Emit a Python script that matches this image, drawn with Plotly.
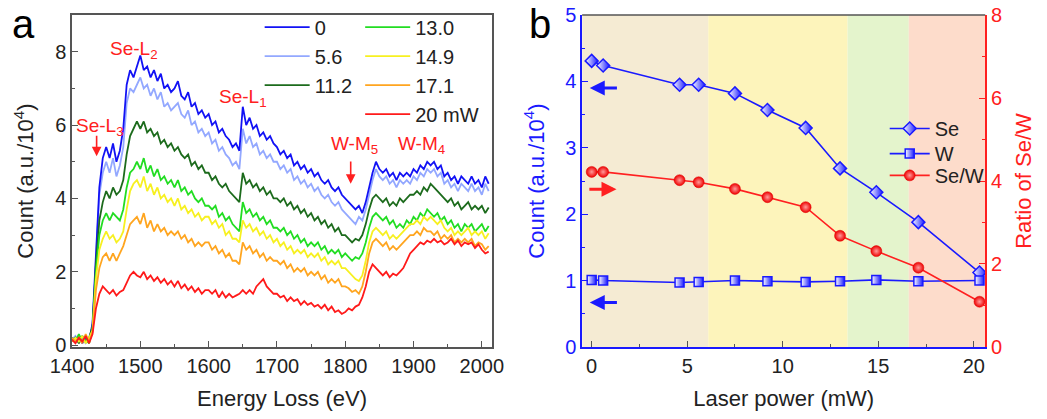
import plotly.graph_objects as go

# ---------------- Panel a data ----------------
energy = list(range(1400, 2015, 5))  # 1400..2010

s_0 = [0.2, 0.1, 0.25, 0.05, 0.2, 0.1, 0.6, 2.6, 4.3, 5.1,
       5.4, 5.1, 5.5, 5.0, 5.3, 5.9, 7.1, 7.5, 7.3, 7.6,
       7.9, 7.5, 7.6, 7.3, 7.5, 7.2, 7.4, 7.0, 7.1, 6.9,
       7.0, 7.2, 6.8, 6.7, 6.9, 6.5, 6.6, 6.3, 6.4, 6.2,
       6.3, 6.0, 6.1, 5.8, 5.9, 5.7, 5.6, 5.4, 5.5, 5.3,
       6.5, 6.0, 6.2, 5.9, 6.0, 5.7, 5.8, 5.6, 5.7, 5.5,
       5.4, 5.2, 5.3, 5.1, 5.2, 4.9, 5.0, 4.8, 4.9, 4.7,
       4.8, 4.6, 4.7, 4.5, 4.4, 4.5, 4.3, 4.2, 4.3, 4.1,
       4.0, 3.9, 3.8, 3.7, 3.8, 3.6, 3.9, 4.3, 4.7, 5.0,
       4.8, 4.7, 4.8, 4.6, 4.7, 4.5, 4.7, 4.6, 4.7, 4.6,
       4.8, 4.7, 4.9, 4.8, 5.0, 4.9, 5.0, 4.8, 4.9, 4.6,
       4.7, 4.5, 4.6, 4.4, 4.6, 4.5, 4.4, 4.6, 4.4, 4.5,
       4.3, 4.6, 4.4]
s_5_6 = [0.15, 0.25, 0.1, 0.2, 0.05, 0.15, 0.5, 2.5, 4.1, 4.7,
         5.0, 4.7, 5.1, 4.6, 4.9, 5.4, 6.6, 7.0, 6.9, 7.1,
         7.3, 7.0, 7.1, 6.8, 7.0, 6.7, 6.9, 6.5, 6.6, 6.4,
         6.5, 6.6, 6.3, 6.2, 6.4, 6.0, 6.1, 5.8, 5.9, 5.7,
         5.8, 5.5, 5.6, 5.3, 5.4, 5.2, 5.1, 4.9, 5.0, 4.8,
         5.9, 5.5, 5.7, 5.4, 5.5, 5.2, 5.3, 5.1, 5.2, 5.0,
         5.0, 4.8, 4.9, 4.7, 4.8, 4.5, 4.6, 4.4, 4.5, 4.3,
         4.4, 4.2, 4.3, 4.1, 4.0, 4.1, 3.9, 3.8, 3.9, 3.7,
         3.6, 3.5, 3.4, 3.3, 3.5, 3.4, 3.7, 4.1, 4.5, 4.8,
         4.6, 4.5, 4.6, 4.4, 4.5, 4.3, 4.5, 4.4, 4.5, 4.4,
         4.6, 4.5, 4.7, 4.6, 4.8, 4.7, 4.8, 4.6, 4.7, 4.4,
         4.5, 4.3, 4.4, 4.2, 4.4, 4.3, 4.2, 4.4, 4.2, 4.3,
         4.1, 4.4, 4.2]
s_11_2 = [0.1, 0.2, 0.05, 0.25, 0.1, 0.2, 0.5, 2.2, 3.4, 3.9,
          4.2, 4.0, 4.3, 4.1, 4.2, 4.5, 5.2, 5.7, 5.9, 6.1,
          5.9, 6.1, 5.8, 5.9, 5.7, 5.8, 5.5, 5.6, 5.4, 5.5,
          5.3, 5.4, 5.2, 5.1, 5.2, 4.9, 5.0, 4.8, 4.9, 4.7,
          4.7, 4.5, 4.6, 4.4, 4.3, 4.4, 4.2, 4.1, 4.0, 3.9,
          4.7, 4.4, 4.5, 4.3, 4.4, 4.2, 4.3, 4.1, 4.2, 4.0,
          4.0, 3.9, 4.0, 3.8, 3.9, 3.7, 3.8, 3.6, 3.7, 3.5,
          3.6, 3.4, 3.5, 3.3, 3.4, 3.2, 3.3, 3.1, 3.2, 3.0,
          3.0, 2.9, 2.8, 2.9, 2.85, 3.0, 3.3, 3.7, 4.0, 4.1,
          4.0, 3.9, 4.0, 3.8, 3.9, 3.8, 4.0, 3.9, 4.0, 4.1,
          4.1, 4.2, 4.1, 4.3, 4.2, 4.4, 4.3, 4.2, 4.1, 4.0,
          3.9, 4.0, 3.8, 3.9, 3.7, 3.8, 3.9, 3.7, 3.8, 3.7,
          3.8, 3.6, 3.75]
s_13_0 = [0.2, 0.1, 0.3, 0.1, 0.15, 0.05, 0.4, 2.0, 3.0, 3.4,
          3.6, 3.4, 3.6, 3.5, 3.4, 3.7, 4.3, 4.7, 4.8, 5.0,
          4.8, 5.1, 4.7, 4.9, 4.6, 4.8, 4.5, 4.6, 4.4, 4.5,
          4.3, 4.5, 4.2, 4.3, 4.1, 4.2, 4.0, 3.9, 4.0, 3.8,
          3.8, 3.7, 3.8, 3.5, 3.6, 3.4, 3.5, 3.3, 3.2, 3.1,
          3.9, 3.6, 3.7, 3.5, 3.6, 3.4, 3.5, 3.3, 3.4, 3.2,
          3.2, 3.1, 3.2, 3.0, 3.1, 2.9, 3.0, 2.8, 2.9, 2.7,
          2.8, 2.7, 2.8, 2.6, 2.7, 2.5, 2.6, 2.5, 2.6, 2.4,
          2.5, 2.4, 2.3, 2.4, 2.35, 2.5, 2.8, 3.2, 3.5, 3.6,
          3.5, 3.4, 3.5, 3.3, 3.4, 3.2, 3.3, 3.2, 3.4, 3.3,
          3.5, 3.4, 3.6, 3.5, 3.7, 3.6, 3.5, 3.6, 3.4, 3.5,
          3.3, 3.4, 3.2, 3.3, 3.1, 3.3, 3.2, 3.3, 3.1, 3.2,
          3.3, 3.1, 3.25]
s_14_9 = [0.1, 0.2, 0.1, 0.25, 0.05, 0.2, 0.4, 1.8, 2.6, 2.9,
          3.1, 2.9, 3.0, 2.8, 2.9, 3.1, 3.7, 4.2, 4.4, 4.5,
          4.3, 4.6, 4.2, 4.4, 4.1, 4.3, 4.0, 4.1, 3.9, 4.0,
          3.8, 4.0, 3.7, 3.8, 3.6, 3.7, 3.5, 3.6, 3.4, 3.5,
          3.5, 3.3, 3.4, 3.2, 3.3, 3.0, 3.1, 2.9, 2.9, 2.8,
          3.4, 3.2, 3.3, 3.1, 3.2, 3.0, 3.1, 2.9, 3.0, 2.8,
          2.9, 2.7, 2.8, 2.6, 2.7, 2.5, 2.6, 2.5, 2.6, 2.4,
          2.5, 2.4, 2.5, 2.3, 2.4, 2.2, 2.3, 2.2, 2.3, 2.1,
          2.1, 2.0, 1.9, 1.8, 1.75, 1.9, 2.3, 2.8, 3.1, 3.2,
          3.1, 3.0, 3.1, 2.9, 3.0, 2.9, 3.0, 3.1, 3.2, 3.3,
          3.3, 3.4, 3.3, 3.5, 3.4, 3.5, 3.4, 3.3, 3.4, 3.2,
          3.1, 3.2, 3.0, 3.1, 3.0, 3.1, 3.2, 3.0, 3.1, 3.0,
          3.1, 2.9, 3.05]
s_17_1 = [0.2, 0.1, 0.2, 0.05, 0.3, 0.1, 0.35, 1.5, 2.1, 2.4,
          2.5, 2.3, 2.5, 2.3, 2.5, 2.7, 3.0, 3.3, 3.4, 3.5,
          3.3, 3.6, 3.2, 3.4, 3.1, 3.3, 3.1, 3.2, 3.0, 3.1,
          3.0, 3.1, 2.9, 3.0, 2.8, 2.9, 2.7, 2.8, 2.7, 2.8,
          2.8, 2.6, 2.7, 2.5, 2.6, 2.4, 2.5, 2.3, 2.3, 2.2,
          2.8, 2.6, 2.7, 2.5, 2.6, 2.4, 2.5, 2.3, 2.4, 2.3,
          2.3, 2.2, 2.3, 2.1, 2.2, 2.0, 2.1, 2.0, 2.1, 1.9,
          2.0, 1.9, 2.0, 1.8, 1.9, 1.7, 1.8, 1.7, 1.8, 1.6,
          1.6, 1.55, 1.45, 1.5, 1.4, 1.6, 2.0, 2.5, 2.8, 2.9,
          2.8, 2.7, 2.8, 2.6, 2.7, 2.6, 2.7, 2.8, 2.9, 3.0,
          3.0, 3.1, 3.0, 3.2, 3.1, 3.1, 3.0, 3.1, 2.9, 3.0,
          2.9, 3.0, 2.8, 2.9, 2.8, 2.9, 2.8, 2.9, 2.7, 2.8,
          2.75, 2.6, 2.7]
s_20 = [0.15, 0.05, 0.2, 0.1, 0.25, 0.05, 0.3, 1.0, 1.4, 1.6,
        1.5, 1.4, 1.5, 1.35, 1.45, 1.5, 1.7, 1.9, 2.0, 1.9,
        1.85, 2.0, 1.8, 1.9, 1.75, 1.85, 1.7, 1.8, 1.65, 1.75,
        1.6, 1.75, 1.55, 1.65, 1.5, 1.6, 1.45, 1.55, 1.4, 1.5,
        1.5, 1.4, 1.5, 1.3, 1.45, 1.3, 1.4, 1.3, 1.35, 1.4,
        1.5, 1.4, 1.5, 1.4, 1.6, 1.7, 1.8, 1.6, 1.5, 1.4,
        1.4, 1.3, 1.35, 1.2, 1.3, 1.2, 1.25, 1.1, 1.2, 1.1,
        1.15, 1.05, 1.1, 1.0, 1.1, 0.95, 1.05, 0.9, 0.95, 0.85,
        0.9, 1.0, 0.95, 1.05, 1.1, 1.3, 1.6, 2.0, 2.2, 2.1,
        2.0, 1.9, 2.0, 1.85, 1.95, 1.9, 2.0, 2.1, 2.3, 2.5,
        2.6, 2.7, 2.8, 2.75, 2.85, 2.8, 2.9, 2.8, 2.85, 2.75,
        2.8, 2.9, 2.75, 2.85, 2.7, 2.8, 2.75, 2.8, 2.65, 2.75,
        2.6, 2.5, 2.55]

spec_names = ["0", "5.6", "11.2", "13.0", "14.9", "17.1", "20 mW"]
spec_values = [s_0, s_5_6, s_11_2, s_13_0, s_14_9, s_17_1, s_20]
spec_colors = ["#1212f5", "#93a8ff", "#1c6b1c", "#22dd22", "#f7f020", "#ffa51f", "#ff1a1a"]
spec_legend = ["legend6", "legend6", "legend6", "legend2", "legend2", "legend2", "legend2"]
draw_order = [1, 0, 2, 3, 4, 5, 6]

edge_labels = ["Se-L<sub>3</sub>", "Se-L<sub>2</sub>", "Se-L<sub>1</sub>", "W-M<sub>5</sub>", "W-M<sub>4</sub>"]
edge_label_x = [1441, 1491, 1650, 1814, 1911]
edge_label_y = [5.95, 8.05, 6.75, 5.45, 5.45]
edge_arrow_x = [1436, 1808]
edge_arrow_y0 = [5.75, 5.05]
edge_arrow_y1 = [5.15, 4.4]

# ---------------- Panel b data ----------------
power = [0, 0.6, 4.6, 5.6, 7.5, 9.2, 11.2, 13.0, 14.9, 17.1, 20.3]
se_count = [4.31, 4.24, 3.95, 3.95, 3.82, 3.57, 3.30, 2.69, 2.33, 1.88, 1.12]
w_count = [1.01, 1.00, 0.97, 0.98, 1.00, 0.99, 0.98, 0.99, 1.01, 0.99, 1.00]
ratio = [4.22, 4.22, 4.02, 3.97, 3.81, 3.61, 3.37, 2.68, 2.31, 1.91, 1.09]

band_edges = [-0.5, 6.1, 13.4, 16.6, 20.6]
band_colors = ["#f5ebd3", "#fdf4bb", "#e4f4cc", "#fddccb"]

FONT = "Arial, Liberation Sans, sans-serif"
BLUE = "#1a1aff"
RED = "#ff2020"

fig = go.Figure()

for i in draw_order:
    fig.add_trace(go.Scatter(
        x=energy, y=spec_values[i], mode="lines", name=spec_names[i],
        line=dict(color=spec_colors[i], width=1.8),
        legend=spec_legend[i], legendrank=i + 1,
        xaxis="x", yaxis="y"))

fig.add_trace(go.Scatter(
    x=power, y=se_count, mode="lines+markers", name="Se",
    line=dict(color=BLUE, width=1.6),
    marker=dict(symbol="diamond", size=10, color="white",
                gradient=dict(type="horizontal", color=BLUE),
                line=dict(color=BLUE, width=1.5)),
    legend="legend3", xaxis="x2", yaxis="y2"))
fig.add_trace(go.Scatter(
    x=power, y=w_count, mode="lines+markers", name="W",
    line=dict(color=BLUE, width=1.6),
    marker=dict(symbol="square", size=9, color="white",
                gradient=dict(type="horizontal", color=BLUE),
                line=dict(color=BLUE, width=1.5)),
    legend="legend4", xaxis="x2", yaxis="y2"))
fig.add_trace(go.Scatter(
    x=power, y=ratio, mode="lines+markers", name="Se/W",
    line=dict(color=RED, width=1.6),
    marker=dict(symbol="circle", size=11, color="#ee0000",
                gradient=dict(type="radial", color="#ff9a9a"),
                line=dict(color="#e00000", width=0.5)),
    legend="legend5", xaxis="x2", yaxis="y3"))

shapes = []
for k in range(len(band_colors)):
    shapes.append(dict(type="rect", xref="x2", yref="y2 domain",
                       x0=band_edges[k], x1=band_edges[k + 1], y0=0, y1=1,
                       fillcolor=band_colors[k], line=dict(width=0), layer="below"))
shapes.append(dict(type="line", xref="x2 domain", yref="y2 domain",
                   x0=0, x1=1, y0=1, y1=1, line=dict(color="#555555", width=1.5)))

annotations = []
for t, xx, yy in zip(edge_labels, edge_label_x, edge_label_y):
    annotations.append(dict(text=t, x=xx, y=yy, xref="x", yref="y", showarrow=False,
                            font=dict(family=FONT, size=19, color=RED)))
for xx, y0, y1 in zip(edge_arrow_x, edge_arrow_y0, edge_arrow_y1):
    annotations.append(dict(text="", x=xx, y=y1, ax=xx, ay=y0, xref="x", yref="y",
                            axref="x", ayref="y", showarrow=True, arrowhead=2,
                            arrowsize=1.2, arrowwidth=1.6, arrowcolor=RED))
# axis-direction arrows in panel b
annotations.append(dict(text="", x=-0.1, y=3.9, ax=1.4, ay=3.9, xref="x2", yref="y2",
                        axref="x2", ayref="y2", showarrow=True, arrowhead=2,
                        arrowsize=1.0, arrowwidth=3, arrowcolor=BLUE))
annotations.append(dict(text="", x=-0.1, y=0.67, ax=1.4, ay=0.67, xref="x2", yref="y2",
                        axref="x2", ayref="y2", showarrow=True, arrowhead=2,
                        arrowsize=1.0, arrowwidth=3, arrowcolor=BLUE))
annotations.append(dict(text="", x=1.3, y=3.8, ax=-0.2, ay=3.8, xref="x2", yref="y3",
                        axref="x2", ayref="y3", showarrow=True, arrowhead=2,
                        arrowsize=1.0, arrowwidth=3, arrowcolor=RED))
annotations.append(dict(text="a", x=0.010, y=1.0, xref="paper", yref="paper",
                        xanchor="left", yanchor="top", showarrow=False,
                        font=dict(family=FONT, size=40, color="black")))
annotations.append(dict(text="b", x=0.503, y=1.0, xref="paper", yref="paper",
                        xanchor="left", yanchor="top", showarrow=False,
                        font=dict(family=FONT, size=40, color="black")))

tickfont = dict(family=FONT, size=20, color="#222222")
titlefont = dict(family=FONT, size=22, color="#222222")
legfont = dict(family=FONT, size=20, color="#222222")


def leg(x, y, w=40):
    return dict(x=x, y=y, xanchor="left", yanchor="top", bgcolor="rgba(0,0,0,0)",
                font=legfont, itemwidth=w, tracegroupgap=0)


fig.update_layout(
    width=1047, height=419,
    margin=dict(l=0, r=0, t=0, b=0, autoexpand=False),
    paper_bgcolor="white", plot_bgcolor="white",
    font=dict(family=FONT, color="#222222"),
    shapes=shapes, annotations=annotations,
    xaxis=dict(domain=[0.0688, 0.470], range=[1400, 2015], anchor="y", automargin=False,
               showline=True, linecolor="#555555", linewidth=1.5, mirror=True,
               ticks="inside", ticklen=6, tickcolor="#555555", dtick=100, tick0=1400,
               minor=dict(ticks="inside", ticklen=3, dtick=50, tickcolor="#555555"),
               showgrid=False, zeroline=False, tickfont=tickfont,
               title=dict(text="Energy Loss (eV)", font=titlefont)),
    yaxis=dict(domain=[0.172, 0.964], range=[-0.05, 9.0], anchor="x", automargin=False,
               showline=True, linecolor="#555555", linewidth=1.5, mirror=True,
               ticks="inside", ticklen=6, tickcolor="#555555", dtick=2, tick0=0,
               minor=dict(ticks="inside", ticklen=3, dtick=1, tickcolor="#555555"),
               showgrid=False, zeroline=False, tickfont=tickfont,
               title=dict(text="Count (a.u./10<sup>4</sup>)", font=titlefont)),
    xaxis2=dict(domain=[0.556, 0.941], range=[-0.5, 20.6], anchor="y2", automargin=False,
                showline=True, linecolor=BLUE, linewidth=1.5,
                ticks="inside", ticklen=6, tickcolor="#555555", dtick=5, tick0=0,
                minor=dict(ticks="inside", ticklen=3, dtick=2.5, tickcolor="#555555"),
                showgrid=False, zeroline=False, tickfont=tickfont,
                title=dict(text="Laser power (mW)", font=titlefont)),
    yaxis2=dict(domain=[0.172, 0.964], range=[0, 5], anchor="x2", automargin=False,
                showline=True, linecolor=BLUE, linewidth=1.5,
                ticks="inside", ticklen=6, tickcolor=BLUE, dtick=1, tick0=0,
                minor=dict(ticks="inside", ticklen=3, dtick=0.5, tickcolor=BLUE),
                showgrid=False, zeroline=False,
                tickfont=dict(family=FONT, size=20, color=BLUE),
                title=dict(text="Count (a.u./10<sup>4</sup>)",
                           font=dict(family=FONT, size=22, color=BLUE))),
    yaxis3=dict(range=[0, 8], overlaying="y2", anchor="x2", side="right", automargin=False,
                showline=True, linecolor=RED, linewidth=1.5,
                ticks="inside", ticklen=6, tickcolor=RED, dtick=2, tick0=0,
                minor=dict(ticks="inside", ticklen=3, dtick=1, tickcolor=RED),
                showgrid=False, zeroline=False,
                tickfont=dict(family=FONT, size=20, color=RED),
                title=dict(text="Ratio of Se/W",
                           font=dict(family=FONT, size=22, color=RED))),
    legend=dict(visible=False),
    legend6=leg(0.248, 0.982, 45),
    legend2=leg(0.344, 0.982, 45),
    legend3=leg(0.845, 0.740),
    legend4=leg(0.845, 0.680),
    legend5=leg(0.845, 0.628),
)

fig.write_html("out.html")
